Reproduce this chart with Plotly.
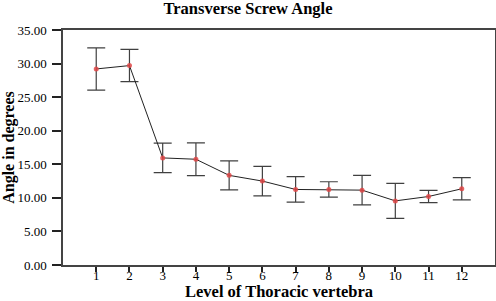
import plotly.graph_objects as go

levels = [1, 2, 3, 4, 5, 6, 7, 8, 9, 10, 11, 12]
tick_labels = ["1", "2", "3", "4", "5", "6", "7", "8", "9", "10", "11", "12"]
mean_angle = [29.2, 29.7, 15.95, 15.75, 13.35, 12.5, 11.25, 11.25, 11.15, 9.55, 10.2, 11.35]
err_angle = [3.15, 2.4, 2.2, 2.45, 2.15, 2.2, 1.9, 1.15, 2.2, 2.6, 0.9, 1.65]

serif = "Liberation Serif, Times New Roman, serif"

fig = go.Figure()
fig.add_trace(go.Scatter(
    x=levels, y=mean_angle,
    mode="lines+markers",
    line=dict(color="#222222", width=1),
    marker=dict(color="rgba(225,70,70,0.85)", size=5),
    error_y=dict(type="data", array=err_angle, visible=True,
                 color="#404040", thickness=1.2, width=9),
    showlegend=False,
))

fig.update_layout(
    width=496, height=301,
    margin=dict(l=63, r=1, t=30, b=36, autoexpand=False),
    paper_bgcolor="white", plot_bgcolor="white",
    font=dict(family=serif, color="#000"),
    title=dict(text="<b>Transverse Screw Angle</b>", x=0.5, xanchor="center",
               yref="container", y=0.972, yanchor="middle",
               font=dict(size=16.5, family=serif)),
)
fig.update_xaxes(
    range=[0, 13], tickmode="array", tickvals=levels, ticktext=tick_labels,
    ticks="outside", ticklen=5, tickcolor="#222", tickwidth=1.5,
    ticklabelstandoff=-7,
    showline=True, linecolor="#444", linewidth=1.5, mirror=True, automargin=False,
    showgrid=False, zeroline=False, tickfont=dict(size=13, family=serif),
    title=dict(text="<b>Level of Thoracic vertebra</b>", standoff=0,
               font=dict(size=16.5, family=serif)),
)
fig.update_yaxes(
    range=[0, 35], tickvals=[0, 5, 10, 15, 20, 25, 30, 35], tickformat=".2f",
    ticks="outside", ticklen=9, tickcolor="#222", tickwidth=1.5,
    ticklabelstandoff=3,
    showline=True, linecolor="#444", linewidth=1.5, mirror=True, automargin=False,
    showgrid=False, zeroline=False, tickfont=dict(size=13, family=serif),
    title=dict(text="<b>Angle in degrees</b>", standoff=0,
               font=dict(size=16, family=serif)),
)

fig.write_html("out.html", config={"displayModeBar": False},
               post_script="document.body.style.margin='0';")
